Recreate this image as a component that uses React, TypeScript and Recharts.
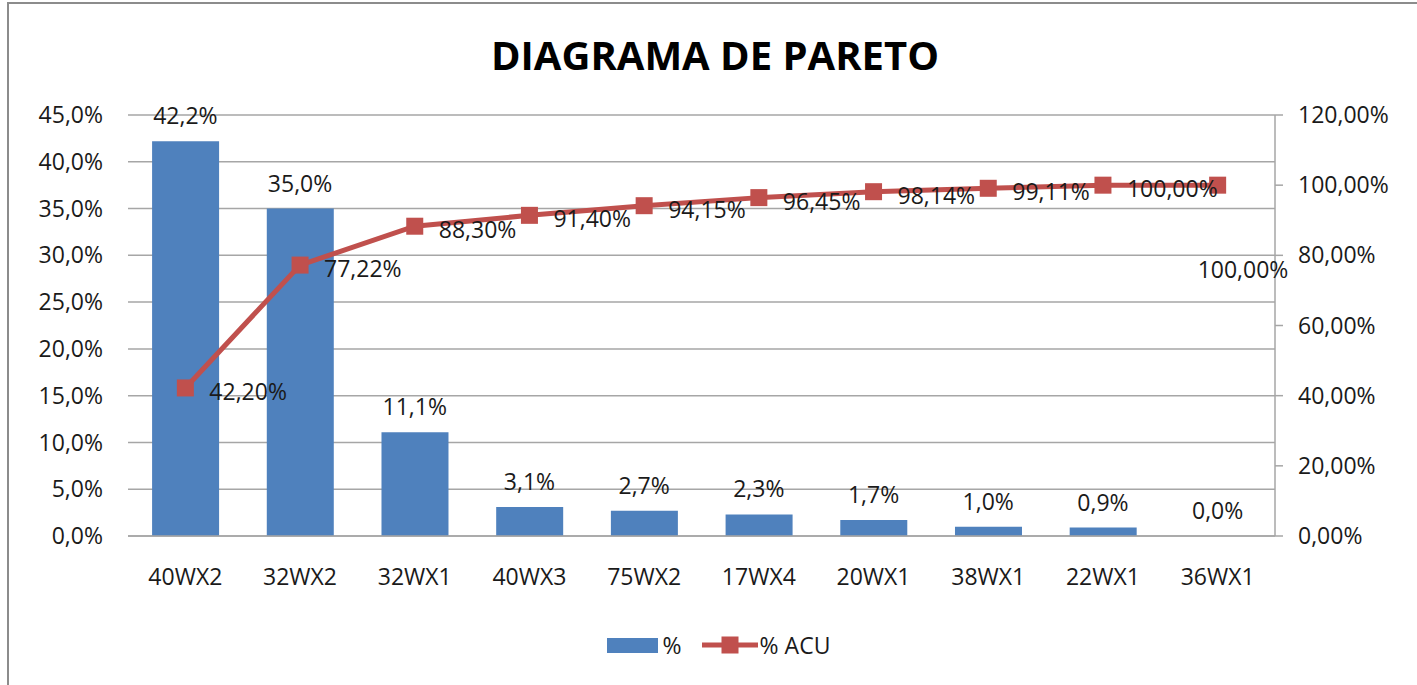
import React from "react";
import { ComposedChart, Bar, Line, XAxis, YAxis, CartesianGrid, Legend, LabelList } from "recharts";

const categorias = ["40WX2", "32WX2", "32WX1", "40WX3", "75WX2", "17WX4", "20WX1", "38WX1", "22WX1", "36WX1"];
const porcentaje = [42.2, 35.0, 11.1, 3.1, 2.7, 2.3, 1.7, 1.0, 0.9, 0.0];
const acumulado = [42.2, 77.22, 88.3, 91.4, 94.15, 96.45, 98.14, 99.11, 100.0, 100.0];
const ticksIzq = [0, 5, 10, 15, 20, 25, 30, 35, 40, 45];
const ticksDer = [0, 20, 40, 60, 80, 100, 120];

const data = categorias.map((c, i) => ({ name: c, pct: porcentaje[i], acu: acumulado[i] }));

const FONT = "'Open Sans', sans-serif";
const AZUL = "#4F81BD";
const ROJO = "#C0504D";
const TXT = "#1a1a1a";

const fmt1 = (v: number) => `${v.toFixed(1).replace(".", ",")}%`;
const fmt2 = (v: number) => `${v.toFixed(2).replace(".", ",")}%`;

const SquareDot = (props: any) => {
    const { cx, cy } = props;
    if (cx == null || cy == null) return null;
    return <rect x={cx - 8.5} y={cy - 8.5} width={17} height={17} fill={ROJO} />;
};

// bar value labels, drawn from the category centre so the 0,0% one shows too
const BarLabel = (props: any) => {
    const { x, y, value } = props;
    return (
        <text x={x} y={y - 26} textAnchor="middle" dominantBaseline="central" fontFamily={FONT} fontSize={23} fill={TXT}>
            {fmt1(Number(value))}
        </text>
    );
};

const LineLabel = (props: any) => {
    const { x, y, value, index } = props;
    // the last label sits below the point in the original
    const last = index === categorias.length - 1;
    return (
        <text
            x={last ? x - 20 : x + 24}
            y={last ? y + 84 : y + 3}
            dominantBaseline="central"
            fontFamily={FONT}
            fontSize={23}
            fill={TXT}
        >
            {fmt2(value)}
        </text>
    );
};

const renderLegend = () => (
    <div style={{ height: 50, display: "flex", alignItems: "center", justifyContent: "center", paddingLeft: 24, fontFamily: FONT, fontSize: 23, color: TXT }}>
        <span style={{ display: "inline-block", width: 51, height: 15, background: AZUL, marginRight: 5 }} />
        <span style={{ marginRight: 20 }}>%</span>
        <svg width={56} height={20} style={{ marginRight: 2 }}>
            <line x1={0} y1={10} x2={56} y2={10} stroke={ROJO} strokeWidth={5} />
            <rect x={19.5} y={1.5} width={17} height={17} fill={ROJO} />
        </svg>
        <span>% ACU</span>
    </div>
);

export default function App() {
    return (
        <div style={{ position: "absolute", left: 0, top: 0, width: 1417, height: 685, overflow: "hidden", background: "#fff" }}>
            <div style={{ position: "absolute", left: 7, top: 2, width: 1600, height: 900, border: "2px solid #8c8c8c" }} />
            <div style={{ position: "absolute", left: 715, top: 28, transform: "translateX(-50%)", fontFamily: FONT, fontWeight: 700, fontSize: 40, color: "#000", whiteSpace: "nowrap", lineHeight: "54px" }}>
                DIAGRAMA DE PARETO
            </div>
            <ComposedChart
                width={1417}
                height={685}
                data={data}
                margin={{ top: 115, right: 12, left: 8, bottom: 15 }}
                barCategoryGap="21%"
                style={{ position: "absolute", left: 0, top: 0 }}
            >
                <CartesianGrid yAxisId="left" vertical={false} stroke="#a6a6a6" strokeWidth={1.5} />
                <XAxis
                    dataKey="name"
                    height={84}
                    tickSize={0}
                    tickMargin={33}
                    axisLine={{ stroke: "#a6a6a6", strokeWidth: 1.5 }}
                    tick={{ fontFamily: FONT, fontSize: 23, fill: TXT }}
                />
                <YAxis
                    yAxisId="left"
                    width={120}
                    domain={[0, 45]}
                    ticks={ticksIzq}
                    interval={0}
                    axisLine={false}
                    tickLine={false}
                    tickSize={0}
                    tickMargin={25}
                    tickFormatter={fmt1}
                    tick={{ fontFamily: FONT, fontSize: 23, fill: TXT }}
                />
                <YAxis
                    yAxisId="right"
                    orientation="right"
                    width={130}
                    domain={[0, 120]}
                    ticks={ticksDer}
                    interval={0}
                    axisLine={{ stroke: "#a6a6a6", strokeWidth: 1.5 }}
                    tickLine={{ stroke: "#a6a6a6", strokeWidth: 1.5 }}
                    tickSize={8}
                    tickMargin={15}
                    tickFormatter={fmt2}
                    tick={{ fontFamily: FONT, fontSize: 23, fill: TXT, textAnchor: "start" }}
                />
                <Legend verticalAlign="bottom" height={50} content={renderLegend} />
                <Bar yAxisId="left" dataKey="pct" name="%" fill={AZUL} isAnimationActive={false} />
                <Line
                    yAxisId="left"
                    dataKey="pct"
                    stroke="none"
                    dot={false}
                    activeDot={false}
                    legendType="none"
                    isAnimationActive={false}
                >
                    <LabelList dataKey="pct" content={<BarLabel />} />
                </Line>
                <Line
                    yAxisId="right"
                    type="linear"
                    dataKey="acu"
                    name="% ACU"
                    stroke={ROJO}
                    strokeWidth={5}
                    dot={<SquareDot />}
                    activeDot={false}
                    isAnimationActive={false}
                >
                    <LabelList dataKey="acu" content={<LineLabel />} />
                </Line>
            </ComposedChart>
        </div>
    );
}
